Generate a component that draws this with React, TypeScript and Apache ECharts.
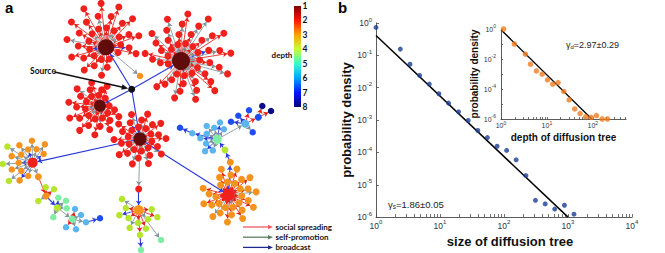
import React, { useEffect, useRef } from 'react';
import * as echarts from 'echarts';

// ================= Panel b : distributions =================
const treeSize = [1, 2.4, 3.4, 4.8, 6.8, 9.6, 13.6, 19.5, 27.6, 39, 55, 78, 110, 155, 220, 310, 440, 620, 880, 1240];
const treeSizeDensity = [0.73, 0.156, 0.053, 0.0239, 0.0129, 0.0065, 0.00333, 0.00179, 0.00097, 0.000475, 0.000287,
  0.000155, 0.000115, 0.000059, 0.0000192, 0.0000033, 0.00000256, 0.00000177, 0.00000233, 0.00000123];
const sizeFitX = [1, 1000];
const sizeFitY = [0.41, 0.000001];

const treeDepth = [1.14, 1.95, 3.4, 4.4, 5.9, 7.9, 10.3, 13.4, 17.5, 23.3, 30.5, 40.5, 53, 70, 92, 120, 160, 209];
const treeDepthDensity = [1.0, 0.1, 0.021, 0.0045, 0.0016, 0.00098, 0.00041, 0.00021, 0.00027, 0.000069, 0.000019,
  0.0000047, 0.0000023, 0.0000014, 0.0000013, 0.0000017, 0.000001, 0.000001];
const depthFitX = [1, 95];
const depthFitY = [0.9, 0.000001];

const sizeAxisLabels = [1, 10, 100, 1000, 10000];
const densityAxisLabels = [1e-6, 1e-5, 1e-4, 1e-3, 1e-2, 1e-1, 1];
const insetDepthLabels = [1, 10, 100];
const insetDensityLabels = [1e-6, 1e-4, 1e-2, 1];
const insetDensityTicks = [1e-6, 1e-5, 1e-4, 1e-3, 1e-2, 1e-1, 1];
const minorSteps = [1, 2, 3, 4, 5, 6, 7, 8, 9];
const gammaS = '1.86±0.05';
const gammaD = '2.97±0.29';

// ================= Panel a : diffusion tree =================
// [id, x, y, depth, parent, link kind (r social / g self / b broadcast), node size]
const treeNodes: any[] = [
  ['S', 131.7, 89.3, 0, '', '', 7],
  ['A', 106, 47.3, 1, 'S', 'b', 16],
  ['B', 181, 61, 1, 'S', 'b', 18],
  ['C', 100, 105.7, 1, 'S', 'b', 12],
  ['D', 140, 139, 1, 'S', 'b', 13],
  ['E', 32.7, 162.7, 2, 'D', 'b', 10],
  ['F', 228.3, 195, 2, 'D', 'b', 12],
  ['G', 138.7, 189, 2, 'D', 'g', 7],
  ['H', 138.7, 210, 3, 'G', 'b', 10],
  ['A1', 140, 76, 3, 'A', 'g', 6.5],
  ['F1', 230.3, 162.3, 3, 'F', 'b', 7],
  ['F2', 225, 150, 4, 'F1', 'b', 7],
  ['I', 217.3, 139.3, 5, 'F2', 'b', 9],
  ['I1', 192.3, 133.3, 6, 'I', 'b', 6.5],
  ['I2', 180, 127.7, 7, 'I1', 'b', 6.5],
  ['J', 245.3, 123.7, 6, 'I', 'g', 8],
  ['J1', 258.3, 117.3, 7, 'J', 'r', 7],
  ['J2', 231, 121.7, 7, 'J', 'b', 6.5],
  ['J3', 238.3, 115.7, 7, 'J', 'b', 6.5],
  ['J4', 249, 110.3, 7, 'J', 'r', 6.5],
  ['J5', 252.7, 132.3, 7, 'J', 'g', 6.5],
  ['N1', 262.3, 106, 8, 'J1', 'r', 6.5],
  ['N2', 271, 111, 8, 'J1', 'r', 6.5],
  ['E1', 38.3, 176.7, 3, 'E', 'g', 7],
  ['E2', 46, 196, 3, 'E1', 'r', 7],
  ['E2a', 45.7, 187.3, 4, 'E2', 'r', 6.5],
  ['E2b', 54, 189.3, 4, 'E2', 'r', 6.5],
  ['E2c', 38.3, 201, 4, 'E2', 'g', 6.5],
  ['E3', 57.3, 207.7, 4, 'E2', 'b', 7],
  ['E3a', 58.3, 197.7, 5, 'E3', 'b', 6.5],
  ['E3b', 66, 200.7, 5, 'E3', 'g', 6.5],
  ['E3c', 66.7, 208.3, 5, 'E3', 'g', 6.5],
  ['E3d', 53.3, 217.3, 5, 'E3', 'g', 6.5],
  ['E4', 72.3, 219.3, 5, 'E3', 'g', 7],
  ['E4a', 75, 209, 6, 'E4', 'r', 6.5],
  ['E4b', 81, 215, 6, 'E4', 'g', 6.5],
  ['E4c', 66, 227.3, 6, 'E4', 'r', 6.5],
  ['E4d', 76, 229.3, 6, 'E4', 'g', 6.5],
  ['E5', 86, 222.3, 6, 'E4', 'g', 6.5],
  ['E6', 100, 218.3, 7, 'E5', 'b', 6.5],
  ['H0', 140, 235, 4, 'H', 'r', 6.5],
  ['H1', 161, 240, 5, 'H', 'g', 6.5],
  ['H2', 141, 250, 5, 'H0', 'b', 6.5],
];
// leaves fanned around a hub: hub, depth of leaves, link kind of every leaf
const fans = [
  { hub: 'A', depth: 2, kinds: 'rrgrrrgrrbrgrrrgrrrgrrrrgrrgrrrbrr' },
  { hub: 'B', depth: 2, kinds: 'grgrggrgrrgggrgrgrggrrgrgbgrgrggrgrrggrgrgrgrggr' },
  { hub: 'C', depth: 2, kinds: 'rrrgrrrgrrrrgrrgrrrrgrrrgrrr' },
  { hub: 'D', depth: 2, kinds: 'grgrggrrgrgrggrgrrgbgrgrggrrgr' },
  { hub: 'E', depth: 3, kinds: 'gbggbgggbgggb' },
  { hub: 'E', depth: 4, kinds: 'ggg' },
  { hub: 'F', depth: 3, kinds: 'rrrrgrrrrrrgrrrrrrgrrrggrrrrrr' },
  { hub: 'H', depth: 4, kinds: 'rrgrrgrbrg' },
  { hub: 'I', depth: 6, kinds: 'gbgbgggbg' },
];
const depthLevels = [1, 2, 3, 4, 5, 6, 7, 8];
const linkKinds = ['r', 'g', 'b'];
const linkNames = ['social spreading', 'self-promotion', 'broadcast'];

// ---------------- layout / style ----------------
const fanLayout = [
  { from: 68, to: 398, radii: [16, 26, 36], shift: [-3, -8], size: 7 },
  { from: 160, to: 500, radii: [16, 25, 34, 43], shift: [7, -4], size: 7 },
  { from: -12, to: 318, radii: [12, 19, 26], shift: [-6, 3], size: 7 },
  { from: 5, to: 365, radii: [12, 19, 26], shift: [0, 0], size: 7 },
  { from: 100, to: 330, radii: [14, 22], shift: [0, 0], size: 6.5 },
  { from: 125, to: 230, radii: [30], shift: [0, 0], size: 6.5 },
  { from: 225, to: 560, radii: [13, 20, 27], shift: [1, 0], size: 7 },
  { from: -15, to: 225, radii: [13, 20], shift: [0, 0], size: 6.5 },
  { from: 100, to: 315, radii: [12, 17], shift: [0, 0], size: 6.5 },
];
const depthColors = ['#111111', '#620b0b', '#f0201c', '#f6921e', '#b5e52d', '#7eeea2', '#5cb6ee', '#1f4ef0', '#0b0b84'];
const jetStops = ['#7f0000', '#ff1500', '#ffa200', '#c8ff37', '#37ffc8', '#00a2ff', '#0015ff', '#00007f'];
const edgeColors: Record<string, string> = { r: '#e2221c', g: '#809399', b: '#2a3ad6' };
const legendColors: Record<string, string> = { r: '#f25c5c', g: '#5f8062', b: '#1d2b8e' };
const SANS = '"Liberation Sans", Arial, sans-serif';
const HUMAN = 'Lato, "Noto Sans", sans-serif';
const AXIS = '#4a4a4a';
const LABEL = '#333333';

function logTicks(decades: number[], max: number) {
  const out: number[] = [];
  decades.forEach((d) => minorSteps.forEach((m) => { const v = d * m; if (v <= max * 1.0001) out.push(v); }));
  return out;
}

function buildNetwork() {
  const pos: Record<string, [number, number]> = {};
  treeNodes.forEach((r) => { pos[r[0]] = [r[1], r[2]]; });
  const nodes: any[] = [];
  const links: any[] = [];
  fans.forEach((f, fi) => {
    const L = fanLayout[fi];
    const [hx, hy] = pos[f.hub];
    const rmax = Math.max(...L.radii);
    const n = f.kinds.length;
    for (let i = 0; i < n; i++) {
      const a = ((L.from + ((L.to - L.from) * (i + 0.5)) / n) * Math.PI) / 180;
      const r = L.radii[i % L.radii.length];
      const k = r / rmax;
      const x = hx + L.shift[0] * k + r * Math.cos(a);
      const y = hy + L.shift[1] * k + r * Math.sin(a);
      const name = `${f.hub}_${fi}_${i}`;
      const kind = f.kinds[i];
      nodes.push({ name, value: [x, y], symbolSize: L.size, itemStyle: { color: depthColors[f.depth] } });
      links.push({ source: f.hub, target: name, lineStyle: { color: edgeColors[kind], width: 0.85 } });
    }
  });
  treeNodes.forEach(([id, x, y, depth, parent, kind, size]) => {
    nodes.push({ name: id, value: [x, y], symbolSize: size, itemStyle: { color: depthColors[depth] } });
    if (parent) links.push({ source: parent, target: id, lineStyle: { color: edgeColors[kind], width: kind === 'b' ? 1.1 : 0.85 } });
  });
  return { nodes, links };
}

function arrow(x1: number, y1: number, x2: number, y2: number, color: string, width: number, head: number, half: number) {
  const dx = x2 - x1, dy = y2 - y1;
  const len = Math.hypot(dx, dy);
  const ux = dx / len, uy = dy / len;
  const bx = x2 - ux * head, by = y2 - uy * head;
  return [
    { type: 'line', z: 50, shape: { x1, y1, x2: bx + ux, y2: by + uy }, style: { stroke: color, lineWidth: width } },
    { type: 'polygon', z: 50, shape: { points: [[x2, y2], [bx - uy * half, by + ux * half], [bx + uy * half, by - ux * half]] }, style: { fill: color } },
  ];
}

const sup = (v: number) => `{b|10}{s|${Math.round(Math.log10(v))}}`;
const richMain = {
  b: { fontSize: 8.5, lineHeight: 13, color: LABEL, fontFamily: SANS },
  s: { fontSize: 6, lineHeight: 7, verticalAlign: 'top', color: LABEL, fontFamily: SANS },
};
const richInset = {
  b: { fontSize: 7, lineHeight: 10.5, color: LABEL, fontFamily: SANS },
  s: { fontSize: 5, lineHeight: 5.5, verticalAlign: 'top', color: LABEL, fontFamily: SANS },
};

function logAxis(grid: number, min: number, max: number, labels: number[], ticks: number[], rich: any, margin: number, tickLen: number, name: string, nameGap: number, nameSize: number, namePad?: number[]) {
  return {
    gridIndex: grid,
    type: 'log',
    logBase: 10,
    min,
    max,
    axisLine: { show: true, onZero: false, lineStyle: { color: AXIS, width: 0.9 } },
    axisTick: { show: true, inside: true, length: tickLen, customValues: ticks, lineStyle: { color: AXIS, width: 0.8 } },
    minorTick: { show: false },
    splitLine: { show: false },
    axisLabel: { show: true, customValues: labels, formatter: sup, rich, margin },
    name,
    nameLocation: 'middle',
    nameGap,
    nameTextStyle: { fontFamily: SANS, fontWeight: 'bold', fontSize: nameSize, color: '#111', padding: namePad },
  };
}

function buildOption() {
  const { nodes, links } = buildNetwork();
  const sizeTicks = logTicks([1, 10, 100, 1000, 10000], 10000);
  const depthTicks = logTicks([1, 10, 100], 530);

  const graphics: any[] = [];
  // panel letters
  graphics.push({ type: 'text', z: 60, style: { text: 'a', x: 5, y: 7, fontSize: 15, fontWeight: 'bold', fontFamily: SANS, fill: '#000', verticalAlign: 'middle' } });
  graphics.push({ type: 'text', z: 60, style: { text: 'b', x: 338, y: 7.5, fontSize: 15, fontWeight: 'bold', fontFamily: SANS, fill: '#000', verticalAlign: 'middle' } });
  // colour bar
  const cbX = 294, cbY = 6, cbW = 7, cbH = 101;
  graphics.push({
    type: 'rect', z: 40, shape: { x: cbX, y: cbY, width: cbW, height: cbH },
    style: { fill: new echarts.graphic.LinearGradient(0, 0, 0, 1, jetStops.map((c, i) => ({ offset: i / (jetStops.length - 1), color: c }))) },
  });
  depthLevels.forEach((d, i) => {
    const y = cbY + (i * cbH) / (depthLevels.length - 1);
    graphics.push({ type: 'text', z: 60, style: { text: String(d), x: cbX + cbW + 1.5, y, fontSize: 8.5, fontWeight: 'bold', fontFamily: HUMAN, fill: '#111', verticalAlign: 'middle' } });
  });
  graphics.push({ type: 'text', z: 60, style: { text: 'depth', x: 282, y: 54.5, fontSize: 8, fontWeight: 'bold', fontFamily: HUMAN, fill: '#111', align: 'center', verticalAlign: 'middle' } });
  // source pointer
  graphics.push({ type: 'text', z: 60, style: { text: 'Source', x: 30, y: 71.3, fontSize: 8.5, fontWeight: 'bold', fontFamily: HUMAN, fill: '#111', verticalAlign: 'middle' } });
  graphics.push(...arrow(54.5, 72, 128.2, 88.4, '#111', 1.7, 6.5, 2.8));
  // link legend
  linkKinds.forEach((k, i) => {
    const y = 227 + i * 10.2;
    graphics.push(...arrow(243, y, 273, y, legendColors[k], 1.3, 5, 2.2));
    graphics.push({ type: 'text', z: 60, style: { text: linkNames[i], x: 275.5, y, fontSize: 8, fontWeight: 'bold', fontFamily: HUMAN, fill: '#111', verticalAlign: 'middle' } });
  });
  // exponents
  graphics.push({
    type: 'text', z: 60,
    style: {
      text: `{g|γ}{u|s}{t|=${gammaS}}`, x: 388, y: 204, verticalAlign: 'middle',
      rich: {
        g: { fontSize: 9.5, lineHeight: 11, fontFamily: SANS, fill: '#222', color: '#222' },
        u: { fontSize: 6.5, lineHeight: 3, verticalAlign: 'bottom', fontFamily: SANS, fill: '#222', color: '#222' },
        t: { fontSize: 9.5, lineHeight: 11, fontFamily: SANS, fill: '#222', color: '#222' },
      },
    },
  });
  graphics.push({
    type: 'text', z: 60,
    style: {
      text: `{g|γ}{u|d}{t|=${gammaD}}`, x: 566, y: 44.5, verticalAlign: 'middle',
      rich: {
        g: { fontSize: 9, lineHeight: 10.5, fontFamily: SANS, fill: '#222', color: '#222' },
        u: { fontSize: 6, lineHeight: 3, verticalAlign: 'bottom', fontFamily: SANS, fill: '#222', color: '#222' },
        t: { fontSize: 9, lineHeight: 10.5, fontFamily: SANS, fill: '#222', color: '#222' },
      },
    },
  });

  return {
    animation: false,
    backgroundColor: '#ffffff',
    grid: [
      { left: 0, top: 0, width: 330, height: 253 },
      { left: 376, top: 23, width: 256, height: 201 },
      { left: 501, top: 29, width: 125, height: 90 },
    ],
    xAxis: [
      { gridIndex: 0, type: 'value', min: 0, max: 330, show: false },
      logAxis(1, 1, 10000, sizeAxisLabels, sizeTicks, richMain, 2, 3, 'size of diffusion tree', 16, 13, [0, 0, 0, 12]),
      logAxis(2, 1, 530, insetDepthLabels, depthTicks, richInset, 1.5, 2, 'depth of diffusion tree', 13.5, 10),
    ],
    yAxis: [
      { gridIndex: 0, type: 'value', min: 0, max: 253, inverse: true, show: false },
      logAxis(1, 1e-6, 1, densityAxisLabels, densityAxisLabels, richMain, 4, 3, 'probability density', 18, 13),
      logAxis(2, 1e-6, 1, insetDensityLabels, insetDensityTicks, richInset, 5, 2, 'probability density', 16, 10),
    ],
    graphic: graphics,
    series: [
      {
        type: 'graph',
        coordinateSystem: 'cartesian2d',
        xAxisIndex: 0,
        yAxisIndex: 0,
        layout: 'none',
        silent: true,
        edgeSymbol: ['none', 'arrow'],
        edgeSymbolSize: [0, 4.5],
        data: nodes,
        links,
        lineStyle: { width: 0.85, opacity: 1, curveness: 0 },
        label: { show: false },
        emphasis: { disabled: true },
        z: 2,
      },
      {
        type: 'line', xAxisIndex: 1, yAxisIndex: 1, symbol: 'none', silent: true, z: 2,
        data: sizeFitX.map((x, i) => [x, sizeFitY[i]]),
        lineStyle: { color: '#000', width: 1.5 },
      },
      {
        type: 'scatter', xAxisIndex: 1, yAxisIndex: 1, symbolSize: 5, silent: true, clip: false, z: 3,
        data: treeSize.map((x, i) => [x, treeSizeDensity[i]]),
        itemStyle: { color: '#1b3d92' },
      },
      {
        type: 'line', xAxisIndex: 2, yAxisIndex: 2, symbol: 'none', silent: true, z: 2,
        data: depthFitX.map((x, i) => [x, depthFitY[i]]),
        lineStyle: { color: '#000', width: 1.3 },
      },
      {
        type: 'scatter', xAxisIndex: 2, yAxisIndex: 2, symbolSize: 5.5, silent: true, clip: false, z: 3,
        data: treeDepth.map((x, i) => [x, treeDepthDensity[i]]),
        itemStyle: { color: '#f07c1f' },
      },
    ],
  };
}

export default function App() {
  const ref = useRef<HTMLDivElement>(null);
  useEffect(() => {
    document.body.style.margin = '0';
    const chart = echarts.init(ref.current as HTMLDivElement, null, { renderer: 'svg' });
    chart.setOption(buildOption() as any);
    return () => chart.dispose();
  }, []);
  return <div ref={ref} style={{ width: 665, height: 253 }} />;
}
